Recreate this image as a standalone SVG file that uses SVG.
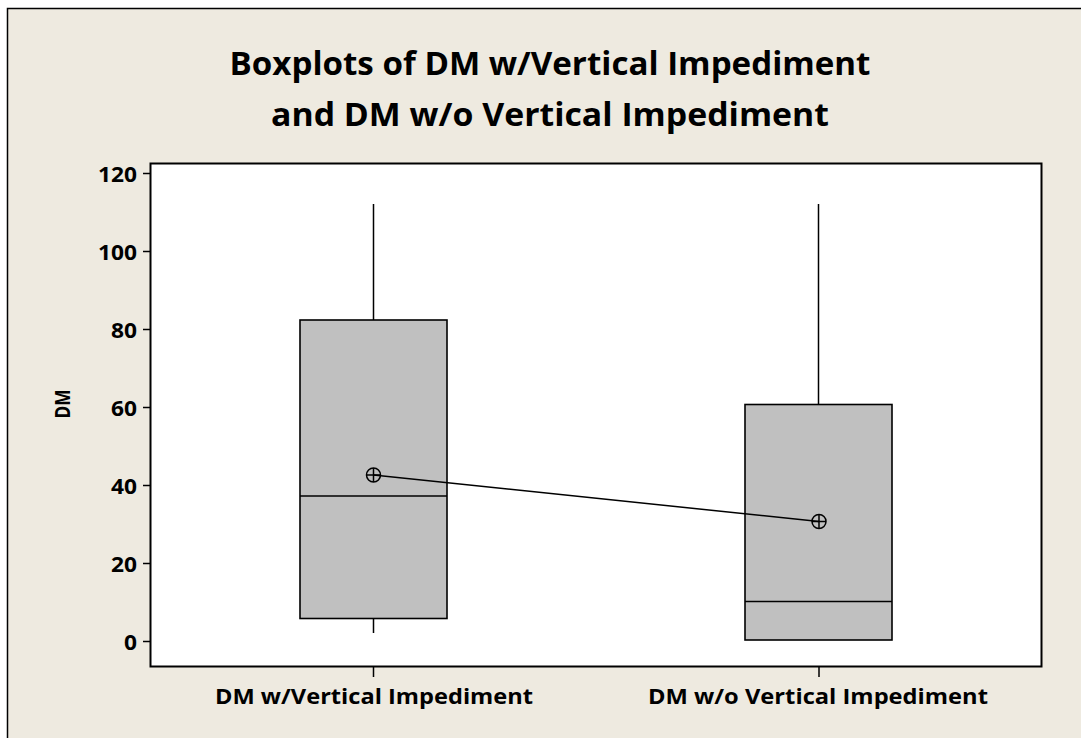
<svg xmlns="http://www.w3.org/2000/svg" width="1081" height="738" viewBox="0 0 1081 738">
  <style>
    .lbl { font-family: "Open Sans", "Liberation Sans", Arial, sans-serif; font-weight: bold; fill: #000; }
    .title { font-size: 33px; }
    .tick { font-size: 21px; text-anchor: end; }
    .axis { font-size: 22px; }
    .frame { fill: #EEEAE0; stroke: #000; stroke-width: 1.5; }
    .plot { fill: #FFFFFF; stroke: #000; stroke-width: 2; }
    .box { fill: #C0C0C0; stroke: #000; stroke-width: 1.6; }
    .ln { stroke: #000; stroke-width: 1.5; fill: none; }
  </style>

  <rect x="0" y="0" width="1081" height="738" fill="#FFFFFF"/>
  <!-- chart frame -->
  <rect class="frame" x="7.5" y="8.5" width="1090" height="750"/>

  <!-- title -->
  <g id="title">
    <text class="lbl title" x="550" y="75" text-anchor="middle" textLength="641" lengthAdjust="spacingAndGlyphs">Boxplots of DM w/Vertical Impediment</text>
    <text class="lbl title" x="550" y="126" text-anchor="middle" textLength="558" lengthAdjust="spacingAndGlyphs">and DM w/o Vertical Impediment</text>
  </g>

  <!-- plot area -->
  <rect class="plot" x="150.5" y="163.5" width="891" height="503"/>

  <!-- y axis ticks and labels -->
  <g id="y-axis">
    <path class="ln" d="M143 173.5H150 M143 251.5H150 M143 329.5H150 M143 407.5H150 M143 485.5H150 M143 563.5H150 M143 641.5H150"/>
    <text class="lbl tick" x="137" y="181.5" textLength="39" lengthAdjust="spacingAndGlyphs">120</text>
    <text class="lbl tick" x="137" y="259.5" textLength="39" lengthAdjust="spacingAndGlyphs">100</text>
    <text class="lbl tick" x="137" y="337.5" textLength="26" lengthAdjust="spacingAndGlyphs">80</text>
    <text class="lbl tick" x="137" y="415.5" textLength="26" lengthAdjust="spacingAndGlyphs">60</text>
    <text class="lbl tick" x="137" y="493.5" textLength="26" lengthAdjust="spacingAndGlyphs">40</text>
    <text class="lbl tick" x="137" y="571.5" textLength="26" lengthAdjust="spacingAndGlyphs">20</text>
    <text class="lbl tick" x="137" y="649.5" textLength="13" lengthAdjust="spacingAndGlyphs">0</text>
    <text class="lbl axis" transform="translate(70 404) rotate(-90)" text-anchor="middle" textLength="29" lengthAdjust="spacingAndGlyphs">DM</text>
  </g>

  <!-- x axis ticks and labels -->
  <g id="x-axis">
    <path class="ln" d="M373.5 667V677 M819 667V677"/>
    <text class="lbl axis" x="374" y="704" text-anchor="middle" textLength="318" lengthAdjust="spacingAndGlyphs">DM w/Vertical Impediment</text>
    <text class="lbl axis" x="818" y="704" text-anchor="middle" textLength="340" lengthAdjust="spacingAndGlyphs">DM w/o Vertical Impediment</text>
  </g>

  <!-- box: with vertical impediment -->
  <g id="box-with">
    <path class="ln" d="M373.5 204V320 M373.5 618V633"/>
    <rect class="box" x="300" y="320" width="147" height="298.5"/>
    <path class="ln" d="M300 496H447"/>
  </g>

  <!-- box: without vertical impediment -->
  <g id="box-without">
    <path class="ln" d="M818.5 204V404.5"/>
    <rect class="box" x="745" y="404.5" width="147" height="235.5"/>
    <path class="ln" d="M745 601.5H892"/>
  </g>

  <!-- connector joining the means -->
  <g id="connectors">
    <path class="ln" d="M373.5 475L819 521.5"/>
  </g>

  <!-- mean symbols -->
  <g id="mean-with">
    <circle class="ln" cx="373.5" cy="475" r="7" stroke-width="1.6"/>
    <path class="ln" d="M366.5 475H380.5 M373.5 468V482"/>
  </g>
  <g id="mean-without">
    <circle class="ln" cx="819" cy="521.5" r="7" stroke-width="1.6"/>
    <path class="ln" d="M812 521.5H826 M819 514.5V528.5"/>
  </g>
</svg>
